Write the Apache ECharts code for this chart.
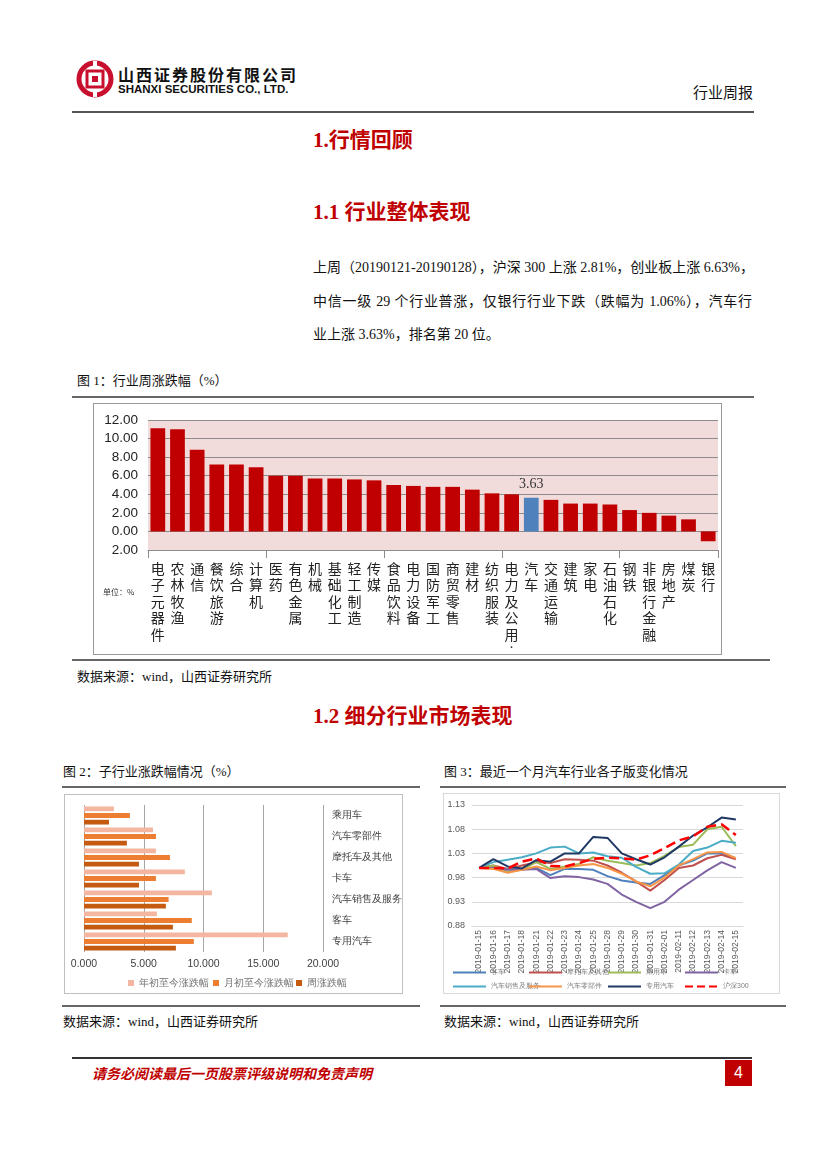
<!DOCTYPE html>
<html><head><meta charset="utf-8">
<script src="https://cdn.jsdelivr.net/npm/echarts@6/dist/echarts.min.js"></script>
<style>
body{margin:0;width:827px;height:1169px;position:relative;background:#fff;font-family:"Noto Sans CJK SC",sans-serif;color:#111;overflow:hidden;}
.a{position:absolute;white-space:nowrap;}
.hl{position:absolute;height:0;}
.red{color:#c00000;font-weight:bold;font-family:"Liberation Serif","Noto Sans CJK SC",serif;font-size:21px;line-height:26px;}
.para{font-family:"Liberation Serif","Noto Sans CJK SC",serif;font-size:14px;line-height:20px;width:439px;left:313px;}
.just{text-align:justify;text-align-last:justify;}
.cap{font-size:13px;line-height:18px;font-family:"Liberation Serif","Noto Sans CJK SC",serif;}
</style></head>
<body>
<!-- header -->
<svg class="a" style="left:76px;top:60px" width="38" height="38" viewBox="0 0 38 38">
  <circle cx="19" cy="19" r="16" fill="none" stroke="#c8102e" stroke-width="5"/>
  <rect x="11" y="11" width="16" height="16" fill="none" stroke="#c8102e" stroke-width="3"/>
  <rect x="16" y="16" width="6" height="6" fill="#c8102e"/>
  <rect x="17" y="1" width="4" height="8" fill="#fff"/>
  <rect x="17" y="29" width="4" height="8" fill="#fff"/>
</svg>
<div class="a" style="left:118px;top:64px;font-size:16px;line-height:20px;font-weight:bold;letter-spacing:2px;">山西证券股份有限公司</div>
<div class="a" style="left:118px;top:82px;font-size:11.5px;line-height:14px;font-weight:bold;font-family:'Liberation Sans',Arial,sans-serif;">SHANXI SECURITIES CO., LTD.</div>
<div class="a" style="left:693px;top:83px;font-size:15px;line-height:18px;">行业周报</div>
<div class="hl" style="left:72px;top:111px;width:682px;border-top:2px solid #555;"></div>

<div class="a red" style="left:313px;top:127px;">1.行情回顾</div>
<div class="a red" style="left:313px;top:199px;">1.1 行业整体表现</div>
<div class="a para just" style="top:258px;">上周（20190121-20190128），沪深 300 上涨 2.81%，创业板上涨 6.63%，</div>
<div class="a para just" style="top:292px;">中信一级 29 个行业普涨，仅银行行业下跌（跌幅为 1.06%），汽车行</div>
<div class="a para" style="top:325px;">业上涨 3.63%，排名第 20 位。</div>

<div class="a cap" style="left:77px;top:372px;">图 1：行业周涨跌幅（%）</div>
<div class="hl" style="left:72px;top:396px;width:682px;border-top:2px solid #666;"></div>
<div id="c1" class="a" style="left:93px;top:403px;width:627px;height:250px;border:1px solid #999;"></div>
<div class="a" style="left:103px;top:587px;font-size:8px;line-height:10px;color:#333;">单位：%</div>
<div class="hl" style="left:72px;top:659px;width:698px;border-top:2px solid #666;"></div>
<div class="a cap" style="left:77px;top:668px;">数据来源：wind，山西证券研究所</div>

<div class="a red" style="left:313px;top:703px;">1.2 细分行业市场表现</div>

<div class="a cap" style="left:63px;top:763px;">图 2：子行业涨跌幅情况（%）</div>
<div class="hl" style="left:62px;top:786px;width:358px;border-top:2px solid #666;"></div>
<div class="a cap" style="left:444px;top:763px;">图 3：最近一个月汽车行业各子版变化情况</div>
<div class="hl" style="left:440px;top:786px;width:346px;border-top:2px solid #666;"></div>

<div id="c2" class="a" style="left:64px;top:794px;width:337px;height:198px;border:1px solid #bfbfbf;"></div>
<div id="c3" class="a" style="left:443px;top:793px;width:335px;height:199px;border:1px solid #d9d9d9;"></div>

<div class="hl" style="left:62px;top:1005px;width:358px;border-top:2px solid #666;"></div>
<div class="hl" style="left:440px;top:1005px;width:346px;border-top:2px solid #666;"></div>
<div class="a cap" style="left:63px;top:1013px;">数据来源：wind，山西证券研究所</div>
<div class="a cap" style="left:444px;top:1013px;">数据来源：wind，山西证券研究所</div>

<!-- footer -->
<div class="hl" style="left:72px;top:1057px;width:680px;border-top:2px solid #333;"></div>
<div class="a" style="left:92px;top:1063px;font-size:14px;line-height:20px;color:#c00000;font-weight:bold;font-style:italic;">请务必阅读最后一页股票评级说明和免责声明</div>
<div class="a" style="left:725px;top:1060px;width:27px;height:26px;background:#c00000;color:#fff;font-size:16px;line-height:26px;text-align:center;font-family:'Liberation Sans',sans-serif;">4</div>

<script>
// ---------- Chart 1 data ----------
const industries = ['电子元器件','农林牧渔','通信','餐饮旅游','综合','计算机','医药','有色金属','机械','基础化工','轻工制造','传媒','食品饮料','电力设备','国防军工','商贸零售','建材','纺织服装','电力及公用事业','汽车','交通运输','建筑','家电','石油石化','钢铁','非银行金融','房地产','煤炭','银行'];
const weeklyChange = [11.1,11.0,8.8,7.2,7.2,6.9,6.0,6.0,5.7,5.7,5.6,5.5,5.0,4.9,4.8,4.8,4.5,4.1,4.0,3.63,3.4,3.0,3.0,2.9,2.3,2.0,1.7,1.3,-1.06];
const highlightIndustry = ['汽车'];
const yTicks1 = {min:-2, max:12, step:2};

// ---------- Chart 2 data ----------
const subIndustries = ['乘用车','汽车零部件','摩托车及其他','卡车','汽车销售及服务','客车','专用汽车'];
const ytdChange = [2.50,5.77,6.02,8.44,10.70,6.10,17.05];
const mtdChange = [3.84,6.02,7.19,6.02,7.08,9.02,9.19];
const wkChange  = [2.09,3.59,4.60,4.60,6.85,7.44,7.69];
const barSeriesNames = ['年初至今涨跌幅','月初至今涨跌幅','周涨跌幅'];

// ---------- Chart 3 data ----------
const dates = ['2019-01-15','2019-01-16','2019-01-17','2019-01-18','2019-01-21','2019-01-22','2019-01-23','2019-01-24','2019-01-25','2019-01-28','2019-01-29','2019-01-30','2019-01-31','2019-02-01','2019-02-11','2019-02-12','2019-02-13','2019-02-14','2019-02-15'];
const lineNames = ['客车','摩托车及其他','乘用车','卡车','汽车销售及服务','汽车零部件','专用汽车','沪深300'];
const keche      = [1.000,1.002,0.998,0.997,1.000,0.985,0.998,0.998,0.996,0.983,0.974,0.970,0.967,0.985,1.005,1.015,1.030,1.030,1.020];
const motuo      = [1.000,1.005,0.998,1.005,1.012,1.010,1.018,1.017,1.015,1.005,0.990,0.972,0.953,0.975,1.000,1.005,1.020,1.027,1.018];
const chengyong  = [1.000,1.005,0.992,0.996,1.012,0.998,1.003,1.008,1.022,1.015,1.010,1.005,1.010,1.025,1.043,1.048,1.080,1.085,1.045];
const kache      = [1.000,1.000,0.996,0.996,0.998,0.979,0.983,0.981,0.976,0.967,0.945,0.930,0.917,0.930,0.955,0.975,0.995,1.012,1.000];
const xiaoshou   = [1.000,1.012,1.017,1.022,1.030,1.042,1.044,1.030,1.032,1.024,1.021,1.002,0.988,0.989,1.007,1.035,1.042,1.056,1.052];
const lingbujian = [1.000,0.998,0.990,0.996,1.003,0.995,1.000,1.005,1.008,1.000,0.988,0.972,0.962,0.980,1.005,1.018,1.032,1.033,1.020];
const zhuanyong  = [1.000,1.018,1.003,0.999,1.016,1.013,1.030,1.030,1.064,1.062,1.030,1.018,1.007,1.022,1.044,1.067,1.084,1.104,1.100];
const hs300      = [1.000,1.000,0.999,1.013,1.020,1.004,1.003,1.010,1.019,1.021,1.020,1.017,1.026,1.041,1.057,1.065,1.085,1.090,1.068];
const yTicks3 = {min:0.88, max:1.13, step:0.05};

// ---------- Chart 1 ----------
const c1 = echarts.init(document.getElementById('c1'));
c1.setOption({
  animation:false,
  grid:{left:54,right:3,top:16,bottom:104,show:true,backgroundColor:'#f2dcdb',borderWidth:0,outerBoundsMode:'none'},
  xAxis:[
    {type:'category',data:industries,position:'bottom',axisLine:{show:false},axisTick:{show:false},splitLine:{show:false},
     axisLabel:{interval:0,margin:10,fontSize:14,lineHeight:16.5,color:'#222',verticalAlign:'top',fontFamily:'Noto Sans CJK SC',
       formatter:v=>{let s=v.length>5?v.slice(0,5)+'︰':v;return s.split('').join('\n');}}},
    {type:'category',data:industries,position:'bottom',axisLine:{show:true,onZero:true,lineStyle:{color:'#8c8c8c',width:1}},
     axisTick:{show:true,length:8,lineStyle:{color:'#8c8c8c'}},axisLabel:{show:false},splitLine:{show:false}}
  ],
  yAxis:{type:'value',min:yTicks1.min,max:yTicks1.max,interval:yTicks1.step,
    axisLine:{show:false},axisTick:{show:false},
    splitLine:{lineStyle:{color:'#8c8c8c',width:1}},
    axisLabel:{margin:10,fontSize:13.5,color:'#222',fontFamily:'Liberation Sans',formatter:v=>Math.abs(v).toFixed(2)}},
  series:[{type:'bar',xAxisIndex:0,barCategoryGap:'25%',
    data:weeklyChange.map((v,i)=>{
      const hi = highlightIndustry.includes(industries[i]);
      return {value:v,itemStyle:{color:hi?'#4f81bd':'#c00000'},
        label:{show:hi,position:'top',distance:6,fontSize:14,color:'#333',fontFamily:'Liberation Serif',formatter:p=>p.value.toFixed(2)}};
    })}]
});

// ---------- Chart 2 ----------
const c2 = echarts.init(document.getElementById('c2'));
const barColors = ['#f4b6a0','#ed7d31','#c55a11'];
const legendLeft2 = [63,148,231];
c2.setOption({
  animation:false,
  grid:{left:19,right:79,top:10,bottom:41,outerBoundsMode:'none'},
  legend: barSeriesNames.map((n,i)=>({data:[n],left:legendLeft2[i],top:183,padding:0,icon:'rect',itemWidth:6,itemHeight:6,itemGap:4,
    textStyle:{fontSize:10,color:'#6f6f6f',padding:[0,0,0,0]}})),
  xAxis:{type:'value',min:0,max:20,interval:5,axisLine:{show:false},axisTick:{show:false},
    splitLine:{lineStyle:{color:'#a6a6a6'}},
    axisLabel:{margin:7,fontSize:10.5,color:'#404040',fontFamily:'Liberation Sans',formatter:v=>v.toFixed(3)}},
  yAxis:{type:'category',data:subIndustries,inverse:true,position:'right',axisLine:{show:false},axisTick:{show:false},
    axisLabel:{align:'left',margin:9,fontSize:9.5,color:'#404040'}},
  series:[ytdChange,mtdChange,wkChange].map((d,i)=>({type:'bar',name:barSeriesNames[i],data:d,barGap:'40%',barCategoryGap:'14%',
    itemStyle:{color:barColors[i]}}))
});

// ---------- Chart 3 ----------
const c3 = echarts.init(document.getElementById('c3'));
const lineColors = ['#4f81bd','#c0504d','#9bbb59','#8064a2','#4bacc6','#f79646','#1f3864','#ff0000'];
const lineData = [keche,motuo,chengyong,kache,xiaoshou,lingbujian,zhuanyong,hs300];
const legX = [8,84,163,240];
c3.setOption({
  animation:false,
  grid:{left:28,right:36,top:11,bottom:67,outerBoundsMode:'none'},
  legend: lineNames.map((n,i)=>({data:[n],left:legX[i%4],top:i<4?175:189,padding:0,itemWidth:33,itemHeight:8,
    itemStyle:{opacity:0},textStyle:{fontSize:7,color:'#7f7f7f'}})),
  xAxis:{type:'category',data:dates,boundaryGap:true,axisLine:{show:true,lineStyle:{color:'#d9d9d9'}},axisTick:{show:false},
    axisLabel:{interval:0,rotate:90,margin:4,fontSize:8.5,color:'#595959',fontFamily:'Liberation Sans'}},
  yAxis:{type:'value',min:yTicks3.min,max:yTicks3.max,interval:yTicks3.step,axisLine:{show:false},axisTick:{show:false},
    splitLine:{lineStyle:{color:'#d9d9d9'}},
    axisLabel:{margin:7,fontSize:9,color:'#595959',fontFamily:'Liberation Sans',formatter:v=>v.toFixed(2)}},
  series:lineData.map((d,i)=>({type:'line',name:lineNames[i],data:d,symbol:'none',smooth:false,
    lineStyle:{color:lineColors[i],width:i===7?2.5:2,type:i===7?'dashed':'solid'},itemStyle:{color:lineColors[i]},z:i===7?5:2}))
});
</script>
</body></html>
